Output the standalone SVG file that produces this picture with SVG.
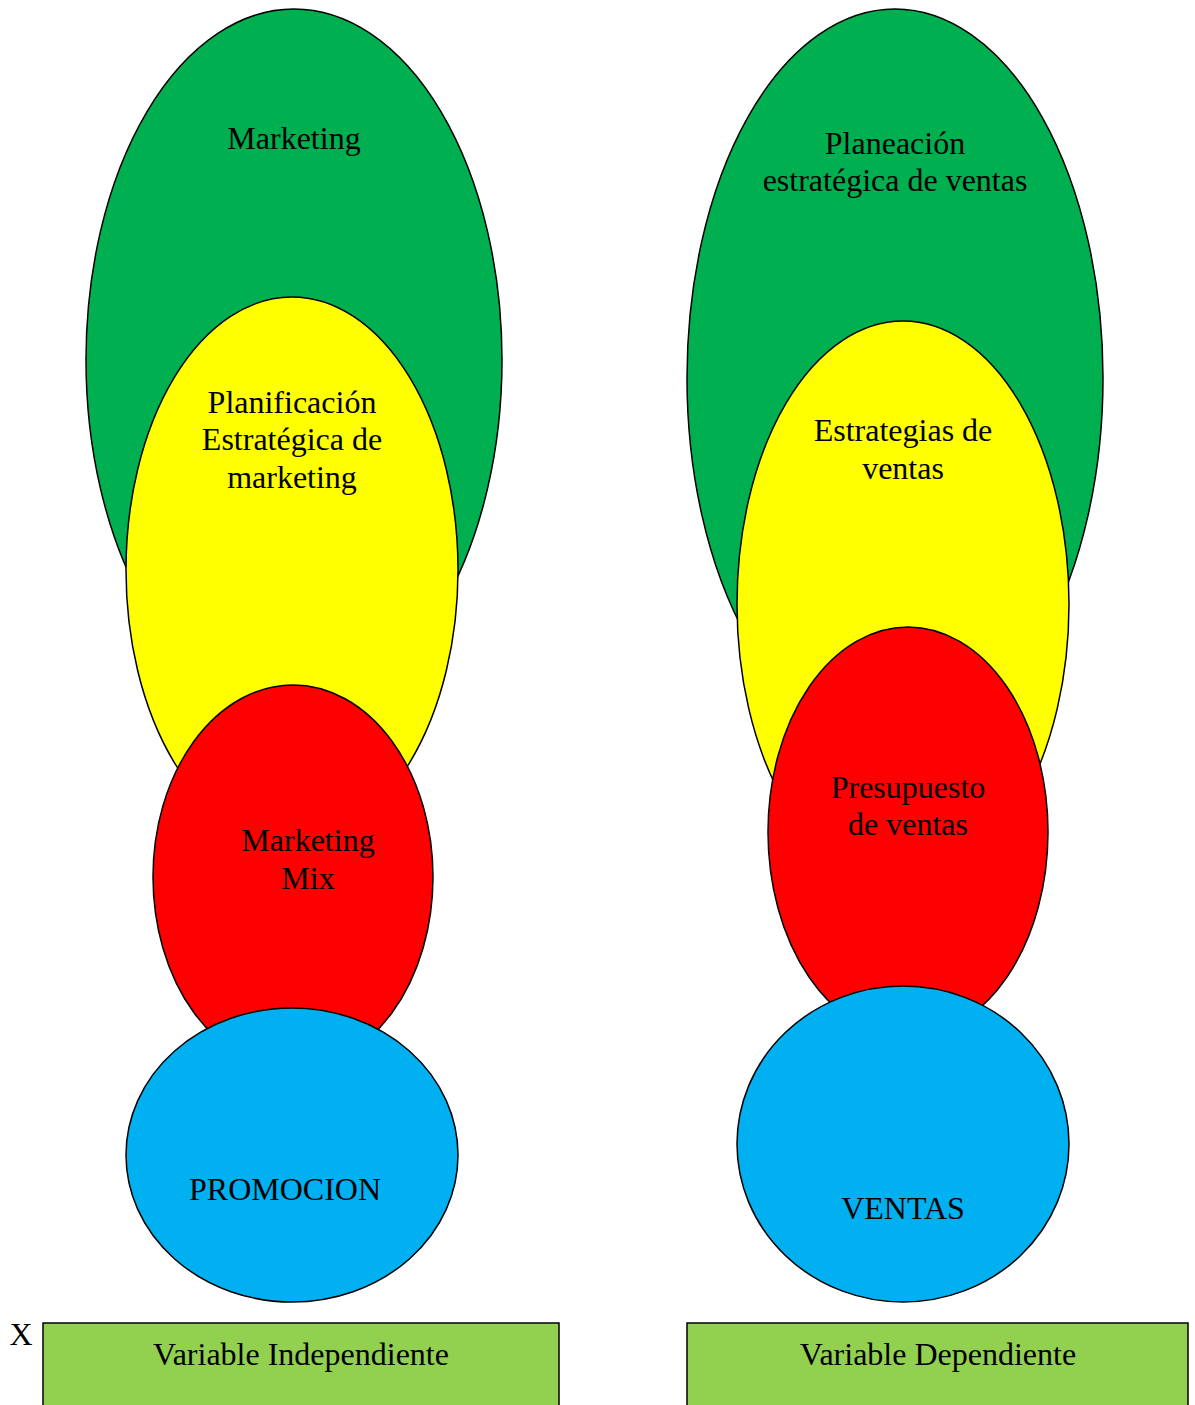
<svg xmlns="http://www.w3.org/2000/svg" width="1195" height="1405" viewBox="0 0 1195 1405">
  <style>
    .shape { stroke: #000; stroke-width: 1.5; }
    .green { fill: #00B050; }
    .yellow { fill: #FFFF00; }
    .red { fill: #FF0000; }
    .blue { fill: #00B0F0; }
    .box { fill: #92D050; stroke: #000; stroke-width: 1.5; }
    text { font-family: "Liberation Serif", "Times New Roman", serif; font-size: 32px; fill: #000; text-anchor: middle; }
  </style>
  <rect width="1195" height="1405" fill="#fff"/>

  <!-- Independent variable column -->
  <g id="marketing">
    <ellipse class="shape green" cx="294" cy="360" rx="208" ry="351"/>
    <text x="294" y="149">Marketing</text>
  </g>
  <g id="planificacion">
    <ellipse class="shape yellow" cx="292" cy="570" rx="166" ry="273"/>
    <text x="292" y="413">Planificación</text>
    <text x="292" y="450">Estratégica de</text>
    <text x="292" y="488">marketing</text>
  </g>
  <g id="marketing-mix">
    <ellipse class="shape red" cx="293" cy="877" rx="140" ry="192"/>
    <text x="308" y="851">Marketing</text>
    <text x="308" y="889">Mix</text>
  </g>
  <g id="promocion">
    <ellipse class="shape blue" cx="292" cy="1155" rx="166" ry="147"/>
    <text x="285" y="1200">PROMOCION</text>
  </g>

  <!-- Dependent variable column -->
  <g id="planeacion">
    <ellipse class="shape green" cx="895" cy="378" rx="208" ry="369"/>
    <text x="895" y="154">Planeación</text>
    <text x="895" y="191">estratégica de ventas</text>
  </g>
  <g id="estrategias">
    <ellipse class="shape yellow" cx="903" cy="604" rx="166" ry="283"/>
    <text x="903" y="441">Estrategias de</text>
    <text x="903" y="479">ventas</text>
  </g>
  <g id="presupuesto">
    <ellipse class="shape red" cx="908" cy="832" rx="140" ry="205"/>
    <text x="908" y="798">Presupuesto</text>
    <text x="908" y="835">de ventas</text>
  </g>
  <g id="ventas">
    <ellipse class="shape blue" cx="903" cy="1144" rx="166" ry="158"/>
    <text x="903" y="1219">VENTAS</text>
  </g>

  <!-- Variable labels -->
  <g id="var-x">
    <text x="21" y="1345">X</text>
  </g>
  <g id="variable-independiente">
    <rect class="box" x="43" y="1323" width="516" height="100"/>
    <text x="301" y="1365">Variable Independiente</text>
  </g>
  <g id="variable-dependiente">
    <rect class="box" x="687" y="1323" width="501" height="100"/>
    <text x="938" y="1365">Variable Dependiente</text>
  </g>

  <g id="connectors"></g>
</svg>
